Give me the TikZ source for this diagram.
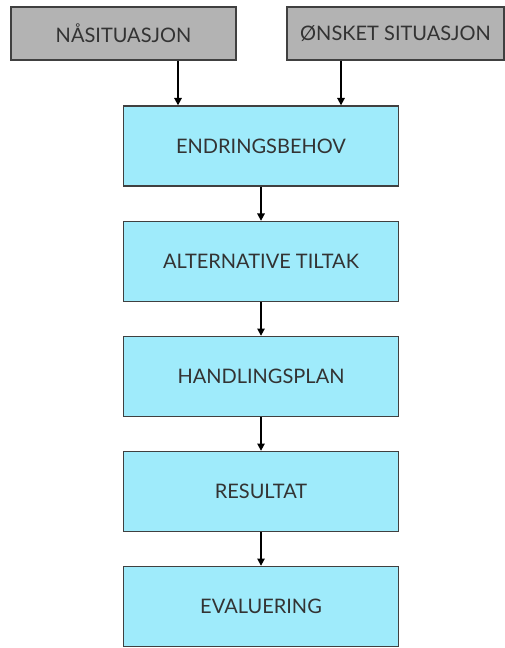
\documentclass[tikz,border=0pt]{standalone}
\usepackage{fontspec}
\setmainfont{Lato}
\usetikzlibrary{arrows.meta}
\begin{document}
\begin{tikzpicture}[x=0.75pt,y=-0.75pt,
  box/.style={draw=black!75, line width=1pt, minimum width=275*0.75pt, minimum height=80*0.75pt,
    fill=stepcolor, font=\fontsize{15}{18}\selectfont, text=black!80, inner sep=0pt},
  topbox/.style={draw=black!75, line width=1pt, minimum height=53*0.75pt,
    fill=inputgray, font=\fontsize{15}{18}\selectfont, text=black!80, inner sep=0pt},
  link/.style={-{Triangle[length=5.5pt,width=5.5pt]}, line width=1.3pt, black}]
\definecolor{stepcolor}{HTML}{9FEBFB}
\definecolor{inputgray}{HTML}{B3B3B3}
\useasboundingbox (0,0) rectangle (505,648);
\node[topbox, minimum width=225*0.75pt] (now) at (123.5,33.5) {NÅSITUASJON};
\node[topbox, minimum width=217*0.75pt] (want) at (395.5,33.5) {ØNSKET SITUASJON};
\node[box] (need) at (261,146) {ENDRINGSBEHOV};
\node[box] (alt) at (261,261.5) {ALTERNATIVE TILTAK};
\node[box] (plan) at (261,376.5) {HANDLINGSPLAN};
\node[box] (res) at (261,491.5) {RESULTAT};
\node[box] (eval) at (261,606.5) {EVALUERING};
\draw[link] (now.south -| 178,0) -- (need.north -| 178,0);
\draw[link] (want.south -| 341,0) -- (need.north -| 341,0);
\draw[link] (need) -- (alt);
\draw[link] (alt) -- (plan);
\draw[link] (plan) -- (res);
\draw[link] (res) -- (eval);
\end{tikzpicture}
\end{document}
